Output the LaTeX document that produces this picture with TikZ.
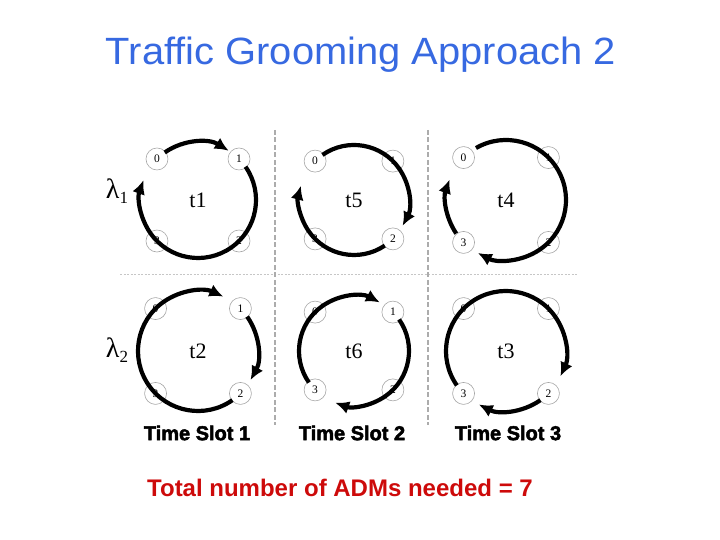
\documentclass[tikz,border=0pt]{standalone}
\usepackage{fontspec}
\setmainfont{Liberation Serif}
\newfontfamily\arialfont{Liberation Sans}
\newfontfamily\blackfont[FakeBold=2.5]{Liberation Sans Bold}
\usetikzlibrary{arrows.meta}
\definecolor{titleblue}{RGB}{55,105,225}
\definecolor{totalred}{RGB}{205,10,10}
\newcommand\mypanel[5]{%
  \coordinate (#1) at (#2,#3);
  \path (#1) ++(135:#4) node[rn] (#1n0) {0};
  \path (#1) ++(45:#4) node[rn] (#1n1) {1};
  \path (#1) ++(-45:#4) node[rn] (#1n2) {2};
  \path (#1) ++(-135:#4) node[rn] (#1n3) {3};
  \node[tlab] (#1lab) at (#1) {#5};
}
\newcommand\myarc[4]{\draw[ring] (#1) ++(#2:#4) arc[start angle=#2, end angle=#3, radius=#4];}
\begin{document}
\begin{tikzpicture}[x=1pt,y=1pt,
  rn/.style={circle, draw=gray!70, line width=0.6pt, fill=white, minimum size=22pt, inner sep=0pt, font=\fontsize{11.5}{11.5}\selectfont},
  tlab/.style={font=\fontsize{22}{22}\selectfont},
  ring/.style={line width=4.2pt, -{Latex[length=14pt,width=13pt]}},
  vdash/.style={draw=gray!65, line width=1.6pt, dash pattern=on 5pt off 2.5pt},
  hdash/.style={draw=gray!45, line width=0.8pt, dash pattern=on 2pt off 1.5pt},
  slot/.style={font=\fontsize{20}{20}\blackfont},
  lam/.style={font=\fontsize{28}{28}\selectfont, inner sep=0pt}]
\useasboundingbox (0,0) rectangle (720,540);
\node[text=titleblue, font=\fontsize{38}{38}\arialfont, xscale=1.05] (title) at (361,485) {Traffic Grooming Approach 2};
% grid
\coordinate (v1a) at (275,410); \coordinate (v1b) at (275,115);
\coordinate (v2a) at (428,410); \coordinate (v2b) at (428,115);
\coordinate (ha) at (120,266); \coordinate (hb) at (577,266);
\draw[hdash] (ha) -- (hb);
\draw[vdash] (v1a) -- (v1b);
\draw[vdash] (v2a) -- (v2b);
% panels
\mypanel{p1}{198}{340}{58}{t1}
\mypanel{p5}{354}{340}{55}{t5}
\mypanel{p4}{506}{340}{60}{t4}
\mypanel{p2}{198}{189}{60}{t2}
\mypanel{p6}{354}{189}{55}{t6}
\mypanel{p3}{506}{189}{60}{t3}
\myarc{p1}{125}{58}{58}
\myarc{p1}{35}{-200}{58}
\myarc{p5}{125}{-28}{55}
\myarc{p5}{-56}{-195}{55}
\myarc{p4}{120}{-118}{60}
\myarc{p4}{-146}{-200}{60}
\myarc{p2}{-55}{-295}{60}
\myarc{p2}{35}{-29}{60}
\myarc{p6}{-145}{-298}{55}
\myarc{p6}{35}{-110}{55}
\myarc{p3}{-145}{-385}{60}
\myarc{p3}{-55}{-117}{60}
% lambdas
\node[lam] (l1) at (117,349) {λ\raisebox{-5pt}{\fontsize{17}{17}\selectfont 1}};
\node[lam] (l2) at (117,190) {λ\raisebox{-5pt}{\fontsize{17}{17}\selectfont 2}};
% slots
\node[slot] (s1) at (197,107) {Time Slot 1};
\node[slot] (s2) at (352,107) {Time Slot 2};
\node[slot] (s3) at (508,107) {Time Slot 3};
\node[text=totalred, font=\fontsize{24}{24}\arialfont\bfseries] (total) at (340,52) {Total number of ADMs needed = 7};
\end{tikzpicture}
\end{document}
